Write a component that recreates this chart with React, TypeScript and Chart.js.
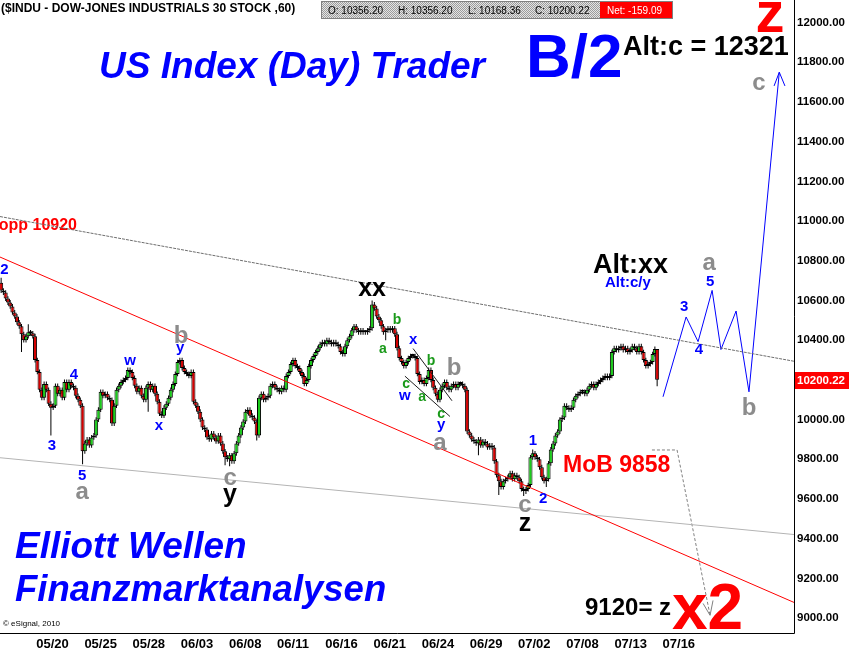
import React, { useEffect, useRef } from 'react';
import { Chart, registerables } from 'chart.js';

Chart.register(...registerables);

const FONT = '"Liberation Sans", Arial, Helvetica, sans-serif';

// ---------------- DATA ----------------
// 60-minute closes ($INDU), 7 bars per session
const firstOpen = 10690;
const closes: number[] = [
  10650, 10640, 10610, 10590, 10570, 10540, 10520,
  10490, 10470, 10430, 10400, 10420, 10440, 10435,
  10420, 10300, 10240, 10150, 10110, 10180, 10150,
  10080, 10060, 10070, 10170, 10130, 10150, 10110,
  10190, 10150, 10190, 10170, 10160, 10120, 10100,
  10070, 9840, 9880, 9900, 9870, 9910, 9920,
  10000, 10050, 10140, 10120, 10130, 10110, 10100,
  9980, 10070, 10150, 10170, 10190, 10200, 10210,
  10250, 10240, 10210, 10170, 10140, 10160, 10120,
  10100, 10160, 10180, 10150, 10170, 10130, 10090,
  10030, 10020, 10060, 10080, 10110, 10150, 10180,
  10230, 10290, 10300, 10260, 10240, 10230, 10220,
  10240, 10090, 10070, 10040, 10000, 9960, 9950,
  9910, 9900, 9930, 9910, 9890, 9920, 9880,
  9840, 9810, 9800, 9820, 9790, 9830, 9880,
  9920, 9960, 9990, 10040, 10050, 10020, 10010,
  9990, 9920, 10110, 10130, 10100, 10110, 10120,
  10170, 10180, 10160, 10150, 10140, 10160, 10150,
  10220, 10240, 10280, 10300, 10270, 10260, 10240,
  10220, 10180, 10200, 10270, 10300, 10320, 10340,
  10360, 10380, 10390, 10380, 10400, 10390, 10380,
  10390, 10380, 10370, 10340, 10330, 10370, 10400,
  10420, 10450, 10470, 10450, 10440, 10450, 10440,
  10440, 10450, 10460, 10580, 10560, 10520, 10500,
  10470, 10440, 10450, 10460, 10450, 10460, 10430,
  10360, 10310, 10290, 10270, 10290, 10310, 10320,
  10320, 10310, 10230, 10190, 10200, 10180, 10210,
  10250, 10200, 10160, 10130, 10100, 10150, 10170,
  10190, 10160, 10150, 10170, 10180, 10160, 10180,
  10180, 10170, 10150, 9940, 9920, 9900, 9890,
  9880, 9900, 9870, 9890, 9880, 9860, 9870,
  9860, 9790, 9720, 9690, 9660, 9690, 9700,
  9710, 9730, 9700, 9720, 9710, 9690, 9650,
  9640, 9650, 9670, 9810, 9830, 9810, 9800,
  9760, 9710, 9690, 9700, 9780, 9850, 9880,
  9920, 9940, 10000, 10010, 10070, 10060, 10050,
  10060, 10100, 10120, 10130, 10140, 10140, 10130,
  10150, 10170, 10180, 10160, 10180, 10190, 10200,
  10210, 10220, 10210, 10220, 10340, 10360, 10350,
  10360, 10370, 10350, 10360, 10340, 10350, 10370,
  10360, 10340, 10370, 10340, 10300, 10270, 10280,
  10290, 10330, 10356.2, 10200.22,
];

// notable wicks: [bar, high, low]
const spikes: Array<[number, number | null, number | null]> = [
  [0, 10715, null],
  [9, null, 10340],
  [12, 10480, null],
  [22, null, 9920],
  [36, null, 9775],
  [65, null, 10040],
  [99, null, 9770],
  [101, null, 9765],
  [113, null, 9895],
  [164, 10600, null],
  [170, null, 10400],
  [211, null, 9820],
  [220, null, 9620],
  [231, null, 9615],
  [232, null, 9625],
  [235, 9850, null],
  [241, null, 9660],
  [290, 10356.2, 10168.36],
];

const yTickValues = [9000, 9200, 9400, 9600, 9800, 10000, 10200, 10400, 10600, 10800, 11000, 11200, 11400, 11600, 11800, 12000];
const xTickBars = [15.5, 36.8, 58.1, 79.4, 100.7, 122.0, 143.3, 164.6, 185.9, 207.2, 228.5, 249.8, 271.1, 292.4];
const xTickLabels = ['05/20', '05/25', '05/28', '06/03', '06/08', '06/11', '06/16', '06/21', '06/24', '06/29', '07/02', '07/08', '07/13', '07/16'];

// trend lines in (bar, price)
const upperChannel = [{ x: -0.5, y: 11023 }, { x: 350.5, y: 10294 }];
const redTrend = [{ x: -0.5, y: 10819 }, { x: 350.5, y: 9079 }];
const lowerChannel = [{ x: -0.5, y: 9808 }, { x: 350.5, y: 9421 }];
const wedgeTop = [{ x: 182.1, y: 10358 }, { x: 199.3, y: 10095 }];
const wedgeBottom = [{ x: 178.5, y: 10219 }, { x: 198.4, y: 10016 }];
const mobPath = [{ x: 287.7, y: 9847 }, { x: 298.8, y: 9847 }, { x: 313.4, y: 9014 }];
const mobHead = [{ x: 310.3, y: 9074 }, { x: 313.4, y: 9014 }, { x: 314.7, y: 9089 }];
const projection = [
  { x: 292.6, y: 10115 }, { x: 302.8, y: 10517 }, { x: 308.1, y: 10393 }, { x: 314.3, y: 10651 },
  { x: 318.2, y: 10353 }, { x: 324.9, y: 10547 }, { x: 330.6, y: 10140 }, { x: 344.0, y: 11750 },
];
const projectionHead = [{ x: 341.7, y: 11681 }, { x: 344.0, y: 11750 }, { x: 346.5, y: 11681 }];

// Elliott wave labels: [text, bar, price, degree]
const waveLabels: Array<[string, number, number, string]> = [
  ['2', 1.5, 10760, 'minor'],
  ['4', 32.2, 10229, 'minor'],
  ['3', 22.5, 9872, 'minor'],
  ['5', 35.8, 9723, 'minor'],
  ['a', 35.8, 9634, 'inter'],
  ['w', 57, 10294, 'minor'],
  ['x', 69.8, 9966, 'minor'],
  ['b', 79.5, 10433, 'inter'],
  ['y', 79.1, 10353, 'minor'],
  ['c', 101.2, 9703, 'inter'],
  ['y', 101.2, 9609, 'primary'],
  ['xx', 164, 10656, 'primary'],
  ['b', 175, 10507, 'minute'],
  ['a', 168.8, 10358, 'minute'],
  ['x', 182.1, 10403, 'minor'],
  ['b', 190, 10304, 'minute'],
  ['b', 200.2, 10269, 'inter'],
  ['c', 179, 10180, 'minute'],
  ['w', 178.5, 10120, 'minor'],
  ['a', 186.1, 10115, 'minute'],
  ['c', 194.5, 10026, 'minute'],
  ['y', 194.5, 9966, 'minor'],
  ['a', 194, 9882, 'inter'],
  ['1', 235.1, 9897, 'minor'],
  ['2', 239.6, 9604, 'minor'],
  ['c', 231.6, 9565, 'inter'],
  ['z', 231.6, 9475, 'primary'],
  ['3', 301.9, 10571, 'minor'],
  ['4', 308.5, 10358, 'minor'],
  ['5', 313.4, 10700, 'minor'],
  ['a', 313, 10785, 'inter'],
  ['b', 330.6, 10070, 'inter'],
  ['c', 335, 11692, 'inter'],
];

const headerNames = ['O', 'H', 'L', 'C'];
const headerValues = [10356.2, 10356.2, 10168.36, 10200.22];
const netChange = -159.09;

// ---------------- STYLE ----------------
const waveStyle: Record<string, { color: string; size: number }> = {
  minor: { color: '#0000ff', size: 15 },
  minute: { color: '#1a9a1a', size: 14 },
  inter: { color: '#8c8c8c', size: 24 },
  primary: { color: '#000000', size: 25 },
};
const UP = '#1ccc1c';
const DOWN = '#d40000';
const WICK = 12;

function buildBars() {
  const sp = new Map(spikes.map((s) => [s[0], s]));
  const out: { i: number; o: number; c: number; h: number; l: number }[] = [];
  let prev = firstOpen;
  closes.forEach((c, i) => {
    const o = prev;
    const s = sp.get(i);
    const h = s && s[1] != null ? s[1] : Math.max(o, c) + WICK;
    const l = s && s[2] != null ? s[2] : Math.min(o, c) - WICK;
    out.push({ i, o, c, h, l });
    prev = c;
  });
  return out;
}

function lineDs(data: any[], color: string, dash: number[] = [], width = 1) {
  return {
    type: 'line' as const,
    data,
    borderColor: color,
    borderWidth: width,
    borderDash: dash,
    pointRadius: 0,
    fill: false,
    tension: 0,
    order: 0,
  };
}

const annotationPlugin = {
  id: 'annot',
  beforeDatasetsDraw(chart: any) {
    const ctx = chart.ctx as CanvasRenderingContext2D;
    ctx.save();
    const t = (s: string, x: number, y: number, font: string, color: string, align: CanvasTextAlign = 'left') => {
      ctx.font = font;
      ctx.fillStyle = color;
      ctx.textAlign = align;
      ctx.textBaseline = 'alphabetic';
      ctx.fillText(s, x, y);
    };
    t('US Index (Day) Trader', 485, 78, `italic bold 37px ${FONT}`, '#0000ff', 'right');
    t('B/2', 526, 77, `bold 62px ${FONT}`, '#0000ff');
    t('z', 770, 32, `bold 58px ${FONT}`, '#ff0000', 'center');
    t('Alt:c = 12321', 623, 55, `bold 27px ${FONT}`, '#000000');
    t('Alt:xx', 593, 273, `bold 27px ${FONT}`, '#000000');
    t('Alt:c/y', 605, 287, `bold 15px ${FONT}`, '#0000ff');
    t('Stopp 10920', 77, 230, `bold 16px ${FONT}`, '#ff0000', 'right');
    t('MoB 9858', 563, 472, `bold 23px ${FONT}`, '#ff0000');
    t('9120= z', 585, 615, `bold 24px ${FONT}`, '#000000');
    t('x2', 672, 629, `bold 64px ${FONT}`, '#ff0000');
    t('Elliott Wellen', 15, 558, `italic bold 37px ${FONT}`, '#0000ff');
    t('Finanzmarktanalysen', 15, 601, `italic bold 36.5px ${FONT}`, '#0000ff');
    t('\u00a9 eSignal, 2010', 3, 626, `8px ${FONT}`, '#000000');
    ctx.restore();
  },
  afterDatasetsDraw(chart: any) {
    const ctx = chart.ctx as CanvasRenderingContext2D;
    const xs = chart.scales.x;
    const ys = chart.scales.y;
    ctx.save();
    ctx.textAlign = 'center';
    ctx.textBaseline = 'alphabetic';
    waveLabels.forEach(([txt, bar, price, deg]) => {
      const st = waveStyle[deg];
      ctx.font = `bold ${st.size}px ${FONT}`;
      ctx.fillStyle = st.color;
      const m = ctx.measureText(txt);
      const cy = ys.getPixelForValue(price);
      const base = cy + (m.actualBoundingBoxAscent - m.actualBoundingBoxDescent) / 2;
      ctx.fillText(txt, xs.getPixelForValue(bar), base);
    });
    ctx.restore();
  },
  afterDraw(chart: any) {
    const ctx = chart.ctx as CanvasRenderingContext2D;
    const { right, bottom } = chart.chartArea;
    const ys = chart.scales.y;
    ctx.save();
    // frame
    ctx.strokeStyle = '#000';
    ctx.lineWidth = 1;
    ctx.beginPath();
    ctx.moveTo(Math.round(right) + 0.5, 0);
    ctx.lineTo(Math.round(right) + 0.5, Math.round(bottom) + 0.5);
    ctx.lineTo(0, Math.round(bottom) + 0.5);
    ctx.stroke();
    // last price box
    const last = closes[closes.length - 1];
    const yl = ys.getPixelForValue(last);
    ctx.fillStyle = '#ff0000';
    ctx.fillRect(Math.round(right) + 1, Math.round(yl) - 8, 60, 17);
    ctx.fillStyle = '#ffffff';
    ctx.font = `bold 11.5px ${FONT}`;
    ctx.textAlign = 'left';
    ctx.textBaseline = 'middle';
    ctx.fillText(last.toFixed(2), Math.round(right) + 3, yl + 0.5);
    // title
    ctx.fillStyle = '#000';
    ctx.font = `bold 12px ${FONT}`;
    ctx.textBaseline = 'alphabetic';
    ctx.fillText('($INDU - DOW-JONES INDUSTRIALS 30 STOCK ,60)', 1, 12, 313);
    // header box
    const pc = document.createElement('canvas');
    pc.width = 2;
    pc.height = 2;
    const p = pc.getContext('2d')!;
    p.fillStyle = '#e4e4e4';
    p.fillRect(0, 0, 2, 2);
    p.fillStyle = '#9c9c9c';
    p.fillRect(0, 0, 1, 1);
    p.fillRect(1, 1, 1, 1);
    const pat = ctx.createPattern(pc, 'repeat');
    if (pat) ctx.fillStyle = pat;
    ctx.fillRect(322, 2, 278, 16);
    ctx.fillStyle = '#ff0000';
    ctx.fillRect(600, 2, 72, 16);
    ctx.strokeStyle = '#808080';
    ctx.strokeRect(321.5, 1.5, 351, 17);
    ctx.font = `10px ${FONT}`;
    const hx = [328, 398, 468, 535];
    ctx.fillStyle = '#000';
    headerNames.forEach((n, i) => ctx.fillText(`${n}: ${headerValues[i].toFixed(2)}`, hx[i], 14));
    ctx.fillStyle = '#ffffff';
    ctx.fillText(`Net: ${netChange.toFixed(2)}`, 607, 14);
    ctx.restore();
  },
};

export default function App() {
  const ref = useRef<HTMLCanvasElement | null>(null);
  useEffect(() => {
    document.body.style.margin = '0';
    if (!ref.current) return;
    const bars = buildBars();
    const chart = new Chart(ref.current, {
      type: 'bar',
      data: {
        datasets: [
          lineDs(upperChannel, '#6e6e6e', [3, 1]),
          lineDs(redTrend, '#ff0000'),
          lineDs(lowerChannel, '#b4b4b4'),
          lineDs(wedgeTop, '#202020'),
          lineDs(wedgeBottom, '#202020'),
          lineDs(mobPath, '#808080', [3, 2]),
          lineDs(mobHead, '#808080'),
          lineDs(projection, '#0000ff'),
          lineDs(projectionHead, '#0000ff'),
          {
            type: 'bar' as const,
            data: bars.map((b) => ({ x: b.i, y: [b.l, b.h] })),
            backgroundColor: '#000000',
            borderWidth: 0,
            grouped: false,
            maxBarThickness: 1,
            order: 3,
          } as any,
          {
            type: 'bar' as const,
            data: bars.map((b) => ({ x: b.i, y: [Math.min(b.o, b.c), Math.max(b.o, b.c)] })),
            backgroundColor: bars.map((b) => (b.c >= b.o ? UP : DOWN)),
            borderColor: '#000000',
            borderWidth: 1,
            borderSkipped: false,
            grouped: false,
            categoryPercentage: 1,
            barPercentage: 1.8,
            minBarLength: 2,
            order: 2,
          } as any,
        ],
      },
      options: {
        animation: false,
        responsive: false,
        devicePixelRatio: 1,
        layout: { padding: 0 },
        plugins: { legend: { display: false }, tooltip: { enabled: false } },
        scales: {
          x: {
            type: 'linear',
            min: -0.5,
            max: 350.5,
            offset: false,
            grid: { display: false, drawTicks: false },
            border: { display: false },
            afterBuildTicks: (s: any) => {
              s.ticks = xTickBars.map((v) => ({ value: v }));
            },
            afterFit: (s: any) => {
              s.height = 21;
            },
            ticks: {
              autoSkip: false,
              maxRotation: 0,
              minRotation: 0,
              align: 'start',
              padding: 4,
              color: '#000',
              font: { family: FONT, size: 13, weight: 'bold' },
              callback: (_v: any, i: number) => xTickLabels[i],
            },
          },
          y: {
            type: 'linear',
            position: 'right',
            min: 8925,
            max: 12064,
            grid: { display: false, drawTicks: false },
            border: { display: false },
            afterBuildTicks: (s: any) => {
              s.ticks = yTickValues.map((v) => ({ value: v }));
            },
            afterFit: (s: any) => {
              s.width = 55;
            },
            ticks: {
              padding: 3,
              color: '#000',
              font: { family: FONT, size: 11.5, weight: 'bold' },
              callback: (v: any) => Number(v).toFixed(2),
            },
          },
        },
      } as any,
      plugins: [annotationPlugin],
    });
    return () => chart.destroy();
  }, []);
  return (
    <div style={{ position: 'absolute', left: 0, top: 0, width: 849, height: 654, background: '#fff' }}>
      <canvas ref={ref} width={849} height={654} style={{ display: 'block' }} />
    </div>
  );
}
